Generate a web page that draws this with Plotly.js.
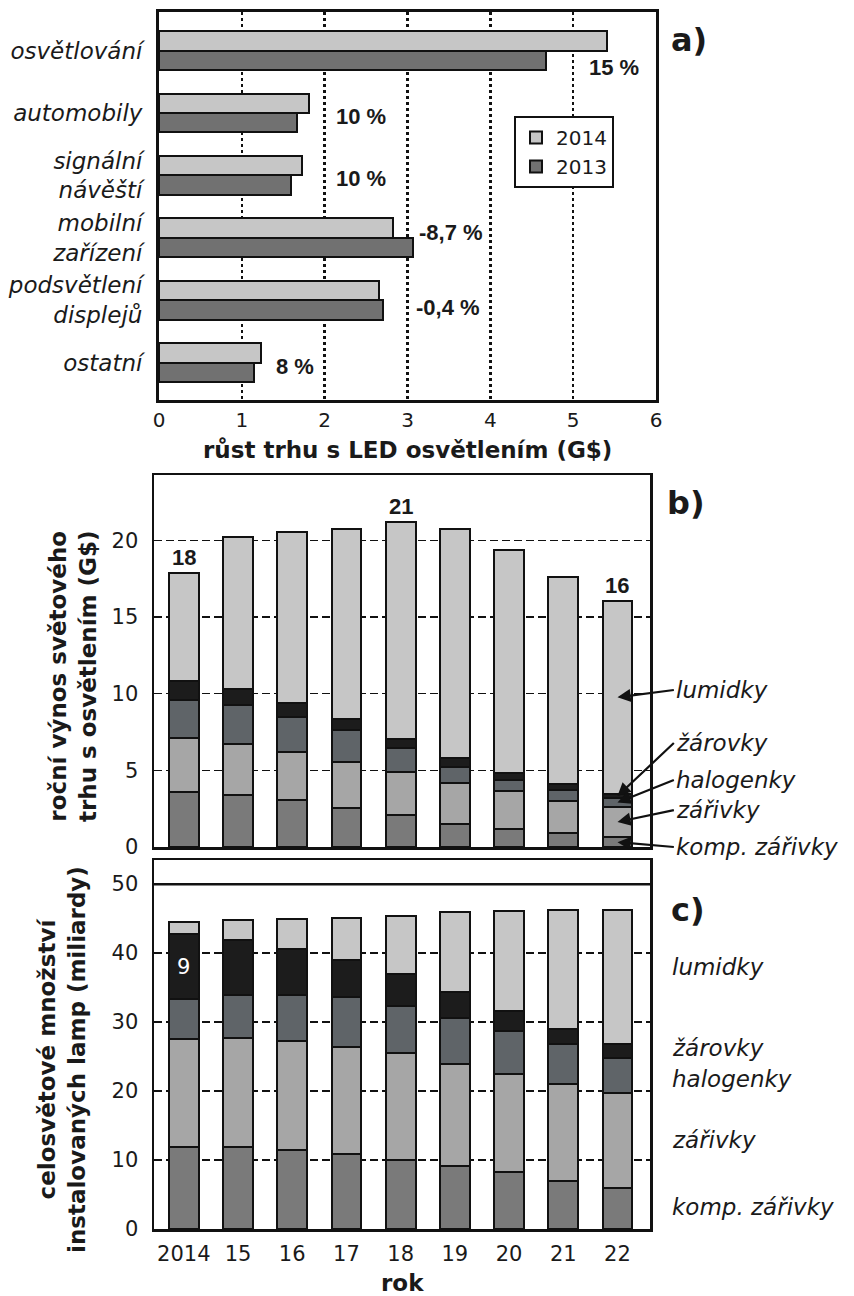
<!DOCTYPE html>
<html><head><meta charset="utf-8">
<script src="https://cdn.plot.ly/plotly-3.0.1.min.js"></script>
<style>
html,body{margin:0;padding:0;background:#fff}
</style>
</head><body><div id="chart" style="width:854px;height:1296px"></div>
<script>
// ---------- panel a data ----------
const segments = ['osvětlování','automobily','signální<br>návěští','mobilní<br>zařízení','podsvětlení<br>displejů','ostatní'];
const value2014 = [5.41,1.81,1.73,2.82,2.65,1.23];
const value2013 = [4.67,1.67,1.59,3.07,2.70,1.15];
const growthLabels = ['15 %','10 %','10 %','-8,7 %','-0,4 %','8 %'];
// ---------- panels b, c data ----------
const years = ['2014','15','16','17','18','19','20','21','22'];
const seriesNames = ['komp. zářivky','zářivky','halogenky','žárovky','lumidky'];
const revKompZarivky = [3.57,3.39,3.07,2.56,2.09,1.50,1.15,0.89,0.63];
const revZarivky     = [3.52,3.31,3.15,3.00,2.78,2.65,2.50,2.11,2.00];
const revHalogenky   = [2.50,2.56,2.28,2.07,1.57,1.09,0.72,0.72,0.55];
const revZarovky     = [1.26,1.03,0.91,0.70,0.58,0.55,0.48,0.39,0.28];
const revLumidky     = [7.00,9.91,11.12,12.43,14.16,14.95,14.52,13.52,12.61];
const instKompZarivky = [11.84,11.84,11.45,10.87,10.00,9.17,8.22,6.96,5.99];
const instZarivky     = [15.70,15.80,15.75,15.59,15.58,14.70,14.20,14.04,13.68];
const instHalogenky   = [5.75,6.27,6.71,7.12,6.74,6.78,6.28,5.77,5.19];
const instZarovky     = [9.46,7.97,6.74,5.41,4.64,3.65,2.97,2.22,1.95];
const instLumidky     = [1.70,2.86,4.28,6.13,8.45,11.60,14.42,17.24,19.42];

// ---------- styling / layout constants ----------
const W = 854, H = 1296;
const FONT = 'DejaVu Sans';
const ARIAL = 'Liberation Sans';
const INK = '#1a1a1a';
const segColors = ['#7a7a7a','#a6a6a6','#5f6468','#1c1c1c','#c6c6c6'];
const pctLabelX = [5.17,2.11,2.11,3.12,3.08,1.39];
const pctLabelShift = [-17,-3,-3,5,-7,-4];
const px = v => v / W, py = v => 1 - v / H;

const revSeries = [revKompZarivky, revZarivky, revHalogenky, revZarovky, revLumidky];
const instSeries = [instKompZarivky, instZarivky, instHalogenky, instZarovky, instLumidky];

const traces = [];
traces.push({type:'bar', orientation:'h', y:segments, x:value2014, name:'2014', xaxis:'x', yaxis:'y',
  base:0, offset:-0.31, width:0.31, marker:{color:'#c6c6c6', line:{color:'#111', width:2}}});
traces.push({type:'bar', orientation:'h', y:segments, x:value2013, name:'2013', xaxis:'x', yaxis:'y',
  base:0, offset:0, width:0.31, marker:{color:'#717171', line:{color:'#111', width:2}}});
revSeries.forEach((s,i) => traces.push({type:'bar', x:years, y:s, name:seriesNames[i], xaxis:'x2', yaxis:'y2',
  width:0.55, showlegend:false, marker:{color:segColors[i], line:{color:'#111', width:2}}}));
instSeries.forEach((s,i) => traces.push({type:'bar', x:years, y:s, name:seriesNames[i], xaxis:'x3', yaxis:'y3',
  width:0.55, showlegend:false, marker:{color:segColors[i], line:{color:'#111', width:2}}}));

const sumAt = (series, idx, upto) => series.slice(0, upto).reduce((a, s) => a + s[idx], 0);
const revTotals = years.map((_, j) => sumAt(revSeries, j, revSeries.length));

const annotations = [];
const paperText = (x, y, text, font, extra) => annotations.push(Object.assign({xref:'paper', yref:'paper',
  x:px(x), y:py(y), xanchor:'center', yanchor:'middle', text:text, showarrow:false, font:font}, extra || {}));
// growth labels (panel a)
segments.forEach((c,i) => annotations.push({xref:'x', yref:'y', x:pctLabelX[i], y:i, xanchor:'left', yanchor:'middle',
  yshift:pctLabelShift[i], text:'<b>'+growthLabels[i]+'</b>', showarrow:false, font:{family:ARIAL, size:22, color:INK}}));
// totals (panel b) -- category axis positions given as indices
[0,4,8].forEach(j => annotations.push({xref:'x2', yref:'y2', x:j, y:revTotals[j], xanchor:'center', yanchor:'bottom', yshift:1,
  text:'<b>'+Math.round(revTotals[j])+'</b>', showarrow:false, font:{family:ARIAL, size:22, color:INK}}));
// "9" in panel c
annotations.push({xref:'x3', yref:'y3', x:0, y:sumAt(instSeries,0,3) + instZarovky[0]/2, xanchor:'center', yanchor:'middle',
  text:String(Math.round(instZarovky[0])), showarrow:false, font:{family:FONT, size:21, color:'#fff'}});
// panel letters
paperText(689, 40, '<b>a)</b>', {family:FONT, size:32, color:INK});
paperText(686, 503, '<b>b)</b>', {family:FONT, size:32, color:INK});
paperText(688, 910, '<b>c)</b>', {family:FONT, size:32, color:INK});
// titles
paperText(407, 450, '<b>růst trhu s LED osvětlením (G$)</b>', {family:FONT, size:23, color:INK});
paperText(73, 676, '<b>roční výnos světového<br>trhu s osvětlením (G$)</b>', {family:FONT, size:23, color:INK}, {textangle:-90});
paperText(62, 1060, '<b>celosvětové množství<br>instalovaných lamp (miliardy)</b>', {family:FONT, size:23, color:INK}, {textangle:-90});
paperText(402, 1283, '<b>rok</b>', {family:FONT, size:23, color:INK});
// panel b arrow labels (head at the middle of each segment of the last bar)
const last = years.length - 1;
const labelTailX = last + 1.04;
const labelTailY = [0, 2.41, 4.37, 6.78, 10.24];
revSeries.forEach((s,i) => annotations.push({xref:'x2', yref:'y2', x:last, y:sumAt(revSeries,last,i) + s[last]/2,
  axref:'x2', ax:labelTailX, ayref:'y2', ay:labelTailY[i], xanchor:'left', yanchor:'middle', text:seriesNames[i], showarrow:true,
  arrowhead:2, arrowsize:1.2, arrowwidth:2.2, arrowcolor:'#111', font:{family:FONT, size:23, style:'italic', color:INK}}));
// panel c side labels
const sideY = [1207, 1140, 1079, 1048, 967];
seriesNames.forEach((n,i) => paperText(670, sideY[i], n, {family:FONT, size:23, style:'italic', color:INK}, {xanchor:'left'}));

const frame = {showline:true, mirror:true, linecolor:'#111', linewidth:2.5, zeroline:false, ticks:'', ticklen:0, automargin:false,
  tickfont:{family:FONT, size:21, color:INK}};
const dashGrid = {showgrid:true, gridcolor:'#111', gridwidth:1.5, griddash:'8px,4px'};

const layout = {
  width:W, height:H, margin:{l:0,r:0,t:0,b:0}, paper_bgcolor:'#fff', plot_bgcolor:'#fff',
  font:{family:FONT, color:INK}, barmode:'stack', showlegend:true,
  xaxis: Object.assign({}, frame, {domain:[px(159), px(656)], anchor:'y', range:[0,6], tickvals:[0,1,2,3,4,5,6],
    linewidth:3, showgrid:true, gridcolor:'#111', gridwidth:2.5, griddash:'3px,3px', ticklabelstandoff:0,
    tickfont:{family:FONT, size:20, color:INK}}),
  yaxis: Object.assign({}, frame, {domain:[py(400), py(12)], anchor:'x', type:'category', categoryorder:'array',
    categoryarray:segments, range:[5.6,-0.62], autorange:false, linewidth:3, showgrid:false, ticklabelstandoff:9,
    tickfont:{family:FONT, size:23, style:'italic', color:INK}}),
  xaxis2: Object.assign({}, frame, {domain:[px(154), px(650)], anchor:'y2', type:'category', range:[-0.55,8.6],
    autorange:false, showticklabels:false, showgrid:false}),
  yaxis2: Object.assign({}, frame, dashGrid, {domain:[py(847), py(475)], anchor:'x2', range:[0,24.26], autorange:false,
    tickvals:[0,5,10,15,20], ticklabelstandoff:9}),
  xaxis3: Object.assign({}, frame, {domain:[px(154), px(650)], anchor:'y3', type:'category', range:[-0.55,8.6],
    autorange:false, showgrid:false, ticklabelstandoff:4}),
  yaxis3: Object.assign({}, frame, dashGrid, {domain:[py(1229), py(860)], anchor:'x3', range:[0,53.5], autorange:false,
    tickvals:[0,10,20,30,40,50], ticklabelstandoff:9}),
  legend:{x:px(514), y:py(116), xanchor:'left', yanchor:'top', bgcolor:'#fff', bordercolor:'#111', borderwidth:2,
    font:{family:FONT, size:20, color:INK}, traceorder:'normal'},
  shapes:[{type:'line', xref:'x3 domain', yref:'y3', x0:0, x1:1, y0:50, y1:50, line:{color:'#111', width:2.5}}],
  annotations: annotations
};
Plotly.newPlot('chart', traces, layout, {staticPlot:true, displayModeBar:false});
</script></body></html>
